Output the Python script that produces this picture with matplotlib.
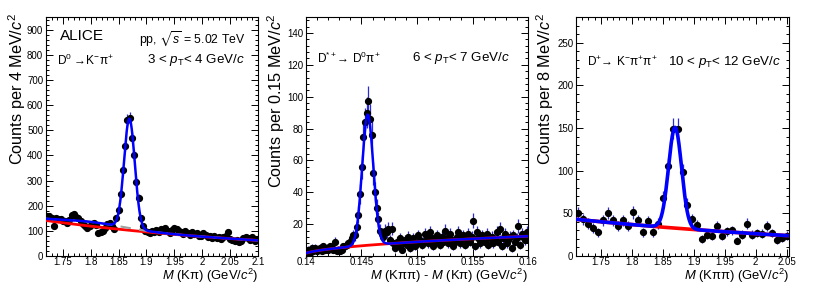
import numpy as np
import matplotlib
matplotlib.use("Agg")
import matplotlib.pyplot as plt
from matplotlib.ticker import MultipleLocator, FixedLocator

plt.rcParams['font.family'] = ['Liberation Sans', 'DejaVu Sans']
plt.rcParams['mathtext.fontset'] = 'custom'
plt.rcParams['mathtext.rm'] = 'Liberation Sans'
plt.rcParams['mathtext.it'] = 'Liberation Sans:italic'
plt.rcParams['mathtext.bf'] = 'Liberation Sans:bold'
plt.rcParams['mathtext.fallback'] = 'stixsans'

# ---------------- Data ----------------
# Panel 1: D0 -> K- pi+, 4 MeV bins from 1.72 to 2.10
p1_start, p1_width = 1.72, 0.004
p1_counts = [158, 160, 150, 120, 152, 146, 148, 140, 138, 130,
             142, 162, 165, 155, 150, 140, 126, 118, 112, 120,
             128, 130, 125, 92, 96, 100, 110, 128, 132, 118,
             106,
             150, 182, 248, 340, 437, 540, 548, 470, 400, 295,
             232, 152, 118, 100, 96,
             92, 100, 96, 104, 95, 108, 102, 110, 98, 90,
             104, 112, 108, 100, 94, 88, 100, 92, 84, 96,
             86, 92, 80, 78, 90, 84, 74, 80, 72, 78,
             70, 74, 66, 76, 80, 96, 68, 62, 58, 64,
             56, 60, 72, 74, 70, 62, 74, 60, 68]
# fit parameters
p1_bkg = (141.0, 2.16)          # amplitude at 1.72, slope
p1_refl = (17.0, 1.80, 0.06)    # reflection amplitude, mean, sigma
p1_sig = (435.0, 1.8695, 0.0096)

# Panel 2: D*+ -> D0 pi+, 0.15 MeV bins from 0.14 to 0.16
p2_start, p2_width = 0.14, 0.00015
p2_counts = [1, 4, 2, 5, 3, 5, 3, 4, 5, 3, 6, 4, 5, 4, 6, 5, 4, 9, 3, 4, 3, 4, 6, 6, 7, 8,
             9, 11, 13, 13, 18, 26, 39, 56, 75, 84, 90, 97, 86, 76, 52, 40, 30, 23, 16,
             14, 12, 16, 15, 17, 10, 17, 8, 5, 9,
             6, 11, 4, 8, 10, 7, 12, 5, 9, 11,
             6, 8, 13, 10, 7, 9, 14, 12, 8, 15,
             11, 6, 9, 13, 10, 7, 12, 9, 16, 11,
             8, 14, 10, 6, 9, 12, 15, 8, 11, 13,
             7, 10, 14, 9, 12, 22, 6, 15, 11, 8,
             13, 10, 9, 14, 7, 11, 12, 8, 10, 15,
             9, 17, 6, 11, 14, 8, 10, 12, 5, 13,
             9, 11, 19, 7, 14, 12, 10, 15]
p2_mpi = 0.13957
p2_bkg = 87.0                    # threshold function amplitude
p2_sig = (82.0, 0.14556, 0.0005)

# Panel 3: D+ -> K- pi+ pi+, 8 MeV bins from 1.71
p3_start, p3_width = 1.71, 0.008
p3_counts = [50, 43, 38, 33, 28, 42, 50, 42, 35, 42,
             35, 51, 42, 28, 41, 28, 38, 68, 105, 149,
             149, 98, 60, 43, 36, 20, 25, 24, 35, 24,
             29, 30, 18, 25, 38, 25, 27, 26, 35, 27,
             19, 21, 24]
p3_bkg = (43.0, 1.72)
p3_sig = (118.0, 1.870, 0.0105)

# ---------------- Figure ----------------
fig = plt.figure(figsize=(8.22, 2.86), dpi=100)
ax1 = fig.add_axes([46/822, 30/286, 212/822, 239/286])
ax2 = fig.add_axes([306/822, 30/286, 222/822, 239/286])
ax3 = fig.add_axes([576/822, 30/286, 213/822, 239/286])

ECOL = '#2b2bd6'
TXT = 9.6
DEC = 8.6
def draw_points(ax, start, width, counts):
    y = np.array(counts, dtype=float)
    x = start + width * (np.arange(len(y)) + 0.5)
    ax.errorbar(x, y, yerr=np.sqrt(y), fmt='o', ms=4.2, mfc='black', mec='black',
                ecolor=ECOL, elinewidth=0.9, capsize=0, zorder=3)
    return x

def gauss(x, a, m, s):
    return a * np.exp(-0.5 * ((x - m) / s) ** 2)

def style(ax, xmaj, xmin, ymaj, ymin):
    ax.tick_params(which='both', direction='in', top=True, right=True, labelsize=7,
                   width=0.7)
    ax.tick_params(axis='x', pad=1.0)
    ax.tick_params(axis='y', pad=2)
    ax.tick_params(which='major', length=5)
    ax.tick_params(which='minor', length=2.5)
    ax.xaxis.set_major_locator(MultipleLocator(xmaj))
    ax.xaxis.set_minor_locator(MultipleLocator(xmin))
    ax.yaxis.set_major_locator(MultipleLocator(ymaj))
    ax.yaxis.set_minor_locator(MultipleLocator(ymin))
    for s in ax.spines.values():
        s.set_linewidth(0.8)

def labels(ax, xl, yl, ylx):
    ax.set_ylabel(yl, fontsize=11.7, loc='top')
    ax.yaxis.set_label_coords(ylx, 1.017)
    ax.set_xlabel(xl, fontsize=9.4, loc='right', va='bottom')
    ax.xaxis.set_label_coords(1.0, -0.121)

# Panel 1
draw_points(ax1, p1_start, p1_width, p1_counts)
xx = np.linspace(1.72, 2.10, 800)
b1 = p1_bkg[0] * np.exp(-p1_bkg[1] * (xx - 1.72))
r1 = gauss(xx, *p1_refl)
s1 = gauss(xx, *p1_sig)
ax1.plot(xx, b1, color='#ff0000', lw=2.0, zorder=4)
ax1.plot(xx, b1 + r1, color='#a0a0a0', lw=1.5, ls=(0, (5, 4)), zorder=4)
ax1.plot(xx, b1 + r1 + s1, color='#0000ff', lw=1.8, zorder=5)
ax1.set_xlim(1.72, 2.10)
ax1.set_ylim(0, 950)
style(ax1, 0.05, 0.01, 100, 20)
ax1.set_xticks([1.75, 1.8, 1.85, 1.9, 1.95, 2.0, 2.05, 2.1])
ax1.set_xticklabels(['1.75', '1.8', '1.85', '1.9', '1.95', '2', '2.05', '2.1'])
labels(ax1, r'$M$ (Kπ) (GeV/$c^2$)', r'Counts per 4 MeV/$c^2$', -0.085)
ax1.text(0.066, 0.92, 'ALICE', transform=ax1.transAxes, fontsize=11, va='center', ha='left')
ax1.text(0.94, 0.912, r'pp, $\sqrt{s}$ = 5.02 TeV', transform=ax1.transAxes,
         fontsize=8.8, va='center', ha='right')
ax1.text(0.052, 0.82, r'D$^{0}$ →K$^{-}$π$^{+}$', transform=ax1.transAxes,
         fontsize=DEC, va='center', ha='left')
ax1.text(0.94, 0.82, r'3 < $p_{\mathrm{T}}$< 4 GeV/$c$', transform=ax1.transAxes,
         fontsize=TXT, va='center', ha='right')

# Panel 2
draw_points(ax2, p2_start, p2_width, p2_counts)
xx2 = np.linspace(0.14, 0.16, 1000)
b2 = p2_bkg * np.sqrt(xx2 - p2_mpi)
s2 = gauss(xx2, *p2_sig)
ax2.plot(xx2, b2, color='#ff0000', lw=2.0, zorder=4)
ax2.plot(xx2, b2 + s2, color='#0000ff', lw=1.8, zorder=5)
ax2.set_xlim(0.14, 0.16)
ax2.set_ylim(0, 150)
style(ax2, 0.005, 0.001, 20, 4)
ax2.yaxis.set_major_locator(FixedLocator([20, 40, 60, 80, 100, 120, 140]))
ax2.set_xticks([0.14, 0.145, 0.15, 0.155, 0.16])
ax2.set_xticklabels(['0.14', '0.145', '0.15', '0.155', '0.16'])
labels(ax2, r'$M$ (Kππ) - $M$ (Kπ) (GeV/$c^2$)', r'Counts per 0.15 MeV/$c^2$', -0.085)
ax2.text(0.05, 0.828, r'D$^{*+}$→ D$^{0}$π$^{+}$', transform=ax2.transAxes,
         fontsize=DEC, va='center', ha='left')
ax2.text(0.92, 0.828, r'6 < $p_{\mathrm{T}}$< 7 GeV/$c$', transform=ax2.transAxes,
         fontsize=TXT, va='center', ha='right')

# Panel 3
draw_points(ax3, p3_start, p3_width, p3_counts)
xx3 = np.linspace(1.71, 2.054, 800)
b3 = p3_bkg[0] * np.exp(-p3_bkg[1] * (xx3 - 1.71))
s3 = gauss(xx3, *p3_sig)
ax3.plot(xx3, b3, color='#ff0000', lw=2.6, zorder=4)
ax3.plot(xx3, b3 + s3, color='#0000ff', lw=2.6, zorder=5)
ax3.set_xlim(1.71, 2.054)
ax3.set_ylim(0, 280)
style(ax3, 0.05, 0.01, 50, 10)
ax3.set_xticks([1.75, 1.8, 1.85, 1.9, 1.95, 2.0, 2.05])
ax3.set_xticklabels(['1.75', '1.8', '1.85', '1.9', '1.95', '2', '2.05'])
labels(ax3, r'$M$ (Kππ) (GeV/$c^2$)', r'Counts per 8 MeV/$c^2$', -0.095)
ax3.text(0.052, 0.81, r'D$^{+}$→ K$^{-}$π$^{+}$π$^{+}$', transform=ax3.transAxes,
         fontsize=DEC, va='center', ha='left')
ax3.text(0.96, 0.81, r'10 < $p_{\mathrm{T}}$< 12 GeV/$c$', transform=ax3.transAxes,
         fontsize=TXT, va='center', ha='right')

fig.savefig('out.png', dpi=100)
